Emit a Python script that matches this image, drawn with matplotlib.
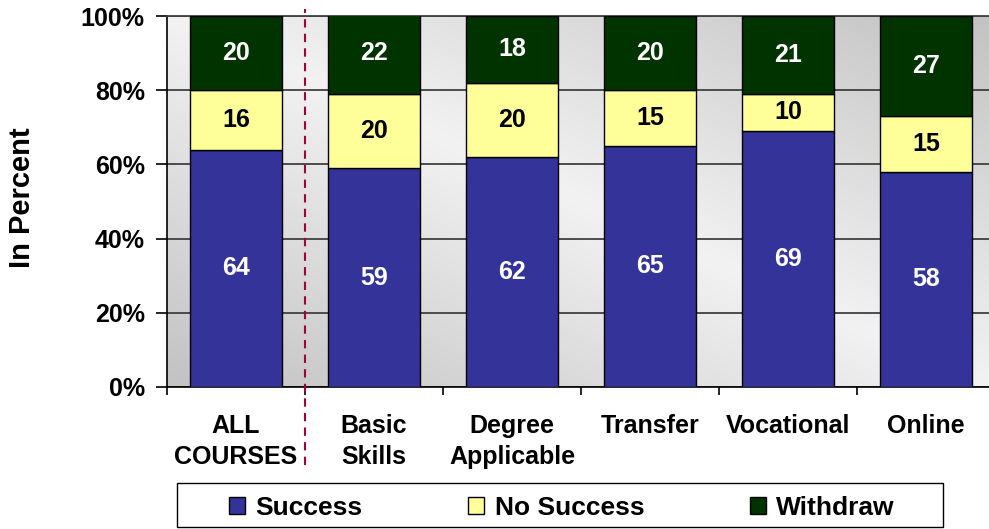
import numpy as np
import matplotlib
matplotlib.use("Agg")
import matplotlib.pyplot as plt
from matplotlib.colors import LinearSegmentedColormap
from matplotlib.patches import Rectangle
import matplotlib.transforms as mtransforms

plt.rcParams['font.family'] = ['Liberation Sans', 'DejaVu Sans']
plt.rcParams['font.weight'] = 'bold'

categories = ["ALL\nCOURSES", "Basic\nSkills", "Degree\nApplicable", "Transfer", "Vocational", "Online"]
success = [64, 59, 62, 65, 69, 58]
no_success = [16, 20, 20, 15, 10, 15]
withdraw = [20, 22, 18, 20, 21, 27]
series_names = ["Success", "No Success", "Withdraw"]
yticks = [0, 20, 40, 60, 80, 100]
ytick_labels = ["0%", "20%", "40%", "60%", "80%", "100%"]

colors = ["#333399", "#FFFF99", "#003300"]
text_colors = ["white", "black", "white"]

fig = plt.figure(figsize=(9.89, 5.29), dpi=100)
ax = fig.add_axes([167/989, (529-387)/529, 828/989, 371/529])

# background gradient
n = 200
xx, yy = np.meshgrid(np.linspace(0, 1, n), np.linspace(0, 1, n))
t = xx + yy
val = 1 - np.abs(t - 1)
cmap = LinearSegmentedColormap.from_list("bg", ["#c2c2c2", "#f2f2f2"])
ax.imshow(val, cmap=cmap, extent=[0, 1, 0, 1], origin='lower', transform=ax.transAxes,
          aspect='auto', zorder=0, interpolation='bilinear')

x = np.arange(len(categories))
width = 0.66
bottom = np.zeros(len(categories))
for vals, col, tc, name in zip([success, no_success, withdraw], colors, text_colors, series_names):
    vals = np.array(vals, dtype=float)
    ax.bar(x, vals, width, bottom=bottom, color=col, edgecolor='black', linewidth=1.0,
           label=name, zorder=3)
    for xi, b, v in zip(x, bottom, vals):
        yc = b + v / 2
        if b + v > 100:
            yc = b + (100 - b) / 2 + 0.5
        ax.text(xi, yc, f"{v:.0f}", ha='center', va='center', color=tc,
                fontsize=18, fontweight='bold', zorder=4)
    bottom = bottom + vals

ax.set_xlim(-0.5, len(categories) - 0.5)
ax.set_ylim(0, 100)
ax.set_yticks(yticks)
ax.set_yticklabels(ytick_labels)
ax.yaxis.grid(True, color='#404040', linewidth=1.3, zorder=1)
ax.set_axisbelow(True)
ax.set_xticks(x)
ax.set_xticklabels(categories, linespacing=1.38, va='top')
ax.set_xticks(np.arange(len(categories) + 1) - 0.5, minor=True)
ax.tick_params(axis='x', which='major', length=0, pad=19.5, labelsize=18)
ax.tick_params(axis='x', which='minor', length=6, width=1.2, direction='out')
ax.tick_params(axis='y', length=8, width=1.2, direction='out', pad=8, labelsize=18)
for lab in ax.get_xticklabels() + ax.get_yticklabels():
    lab.set_fontweight('bold')

ax.spines['right'].set_visible(False)
ax.spines['top'].set_color('#404040')
ax.spines['top'].set_linewidth(1.3)
ax.spines['left'].set_linewidth(1.2)
ax.spines['bottom'].set_linewidth(1.2)

# dashed separator
trans = mtransforms.blended_transform_factory(ax.transData, ax.transAxes)
ax.plot([0.5, 0.5], [-0.21, 1.02], transform=trans, color='#a0003c', linewidth=1.5,
        dashes=[4, 3], clip_on=False, zorder=5)

fig.text(22/989, (529-198)/529, "In Percent", rotation=90, ha='center', va='center',
         fontsize=21, fontweight='bold')

# legend frame
fig.patches.append(Rectangle((177/989, 2/529), 766/989, 44/529, transform=fig.transFigure,
                             facecolor='white', edgecolor='black', linewidth=1.0, zorder=0))
leg = fig.legend(loc='center', bbox_to_anchor=(562/989, 21/529),
                 ncol=3, frameon=False, handlelength=0.6, handleheight=0.6,
                 handletextpad=0.4, columnspacing=4.0, borderaxespad=0,
                 prop={'weight': 'bold', 'size': 19})

fig.savefig("out.png", dpi=100)
